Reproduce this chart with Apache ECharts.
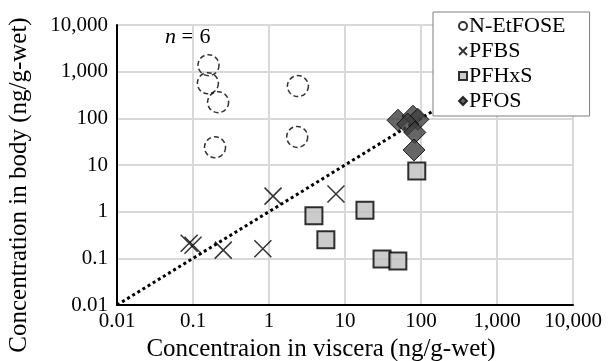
<!DOCTYPE html>
<html>
<head>
<meta charset="utf-8">
<script src="https://cdn.jsdelivr.net/npm/echarts@6/dist/echarts.min.js"></script>
<style>
  html, body { margin: 0; padding: 0; background: #fff; }
  #chart { width: 610px; height: 361px; }
</style>
</head>
<body>
<div id="chart"></div>
<script>
// [viscera, body] pairs, ng/g-wet
const etfose = [[0.16, 1380], [0.157, 565], [0.214, 222], [0.195, 24], [2.4, 490], [2.35, 40]];
const pfbs = [[0.089, 0.21], [0.1, 0.19], [0.25, 0.15], [0.83, 0.16], [1.13, 2.15], [7.6, 2.4]];
const pfhxs = [[3.9, 0.82], [5.6, 0.25], [18.3, 1.07], [30.7, 0.097], [49.6, 0.088], [88, 7.4]];
const pfos = [[49.8, 91], [78.5, 111], [91, 95], [67, 75], [83, 50], [81, 21]];
const oneToOne = [[0.01, 0.01], [10000, 10000]];
const seriesNames = ["N-EtFOSE", "PFBS", "PFHxS", "PFOS"];

const font = "Liberation Serif";
const crossPath = "path://M0,0L10,10M10,0L0,10";

function fmt(v) {
  const n = Number(Number(v).toPrecision(6));
  return n >= 1000 ? n.toLocaleString("en-US") : String(n);
}

const logAxis = {
  type: "log",
  logBase: 10,
  min: 0.01,
  max: 10000,
  axisLine: { show: true, onZero: false, lineStyle: { color: "#000", width: 2 } },
  axisTick: { show: false },
  splitLine: { show: true, lineStyle: { color: "#d9d9d9", width: 2 } },
  minorTick: { show: false },
  axisLabel: { color: "#000", fontFamily: font, fontSize: 21, formatter: fmt },
};

const chart = echarts.init(document.getElementById("chart"));
chart.setOption({
  animation: false,
  textStyle: { fontFamily: font },
  grid: {
    left: 117, right: 37, top: 25, bottom: 56,
    show: true, borderColor: "#262626", borderWidth: 1,
  },
  xAxis: { ...logAxis, axisLabel: { ...logAxis.axisLabel, margin: 6 } },
  yAxis: { ...logAxis, axisLabel: { ...logAxis.axisLabel, margin: 9 } },
  legend: {
    orient: "vertical",
    left: 433,
    top: 12,
    data: seriesNames,
    backgroundColor: "#fff",
    borderColor: "#7f7f7f",
    borderWidth: 1,
    padding: [3, 24, 4, 25],
    itemGap: 3,
    itemWidth: 8,
    itemHeight: 8,
    formatter: "{t|{name}}",
    textStyle: {
      color: "#000", fontFamily: font, fontSize: 22,
      rich: { t: { fontFamily: font, fontSize: 22, color: "#000", padding: [0, 0, 0, -3] } },
    },
  },
  graphic: [
    {
      type: "text", left: 165, top: 26,
      style: {
        text: "{i|n} = 6",
        fontFamily: font, fontSize: 22, fill: "#000",
        rich: { i: { fontStyle: "italic", fontFamily: font, fontSize: 22 } },
      },
    },
    {
      type: "text", x: 321, y: 349,
      style: {
        text: "Concentraion in viscera (ng/g-wet)",
        fontFamily: font, fontSize: 25, fill: "#000",
        align: "center", verticalAlign: "middle",
      },
    },
    {
      type: "text", x: 19, y: 185, rotation: Math.PI / 2,
      style: {
        text: "Concentration in body (ng/g-wet)",
        fontFamily: font, fontSize: 25, fill: "#000",
        align: "center", verticalAlign: "middle",
      },
    },
  ],
  series: [
    {
      type: "line",
      data: oneToOne,
      symbol: "none",
      silent: true,
      z: 1,
      lineStyle: { color: "#000", width: 3, type: [3, 3] },
    },
    {
      name: "N-EtFOSE",
      type: "scatter",
      data: etfose,
      symbol: "circle",
      symbolSize: 21,
      itemStyle: { color: "rgba(255,255,255,0)", borderColor: "#000", borderWidth: 1.5, borderType: [5, 3] },
    },
    {
      name: "PFBS",
      type: "scatter",
      data: pfbs,
      symbol: crossPath,
      symbolSize: 17,
      itemStyle: { color: "rgba(0,0,0,0)", borderColor: "#000", borderWidth: 1.5 },
    },
    {
      name: "PFHxS",
      type: "scatter",
      data: pfhxs,
      symbol: "rect",
      symbolSize: 17,
      itemStyle: { color: "#bfbfbf", borderColor: "#000", borderWidth: 2 },
    },
    {
      name: "PFOS",
      type: "scatter",
      data: pfos,
      symbol: "diamond",
      symbolSize: 22,
      itemStyle: { color: "#404040", borderColor: "#000", borderWidth: 1 },
    },
  ],
});
</script>
</body>
</html>
